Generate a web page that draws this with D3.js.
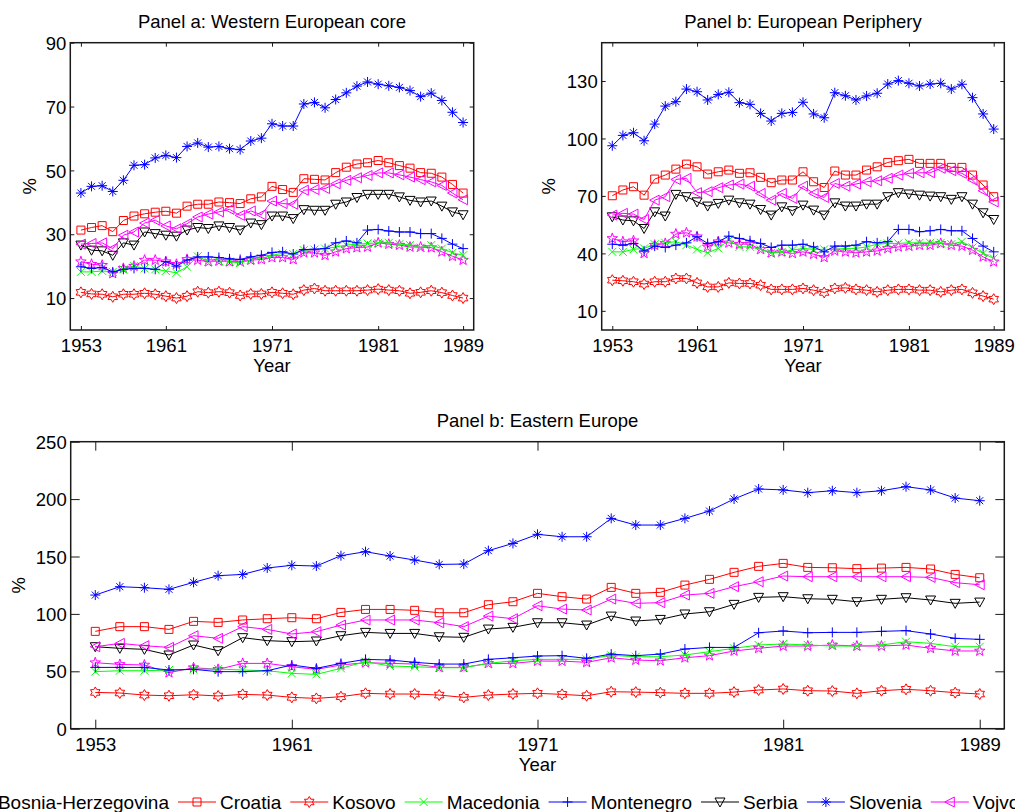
<!DOCTYPE html>
<html>
<head>
<meta charset="utf-8">
<script src="https://cdn.jsdelivr.net/npm/d3@7"></script>
<style>
  body { margin: 0; background: #fff; }
  svg { display: block; font-family: "Liberation Sans", Arial, sans-serif; }
</style>
</head>
<body>
<svg width="1015" height="812"></svg>
<script>
// years on the x axis
const years = [1953, 1954, 1955, 1956, 1957, 1958, 1959, 1960, 1961, 1962, 1963, 1964, 1965,
  1966, 1967, 1968, 1969, 1970, 1971, 1972, 1973, 1974, 1975, 1976, 1977, 1978, 1979,
  1980, 1981, 1982, 1983, 1984, 1985, 1986, 1987, 1988, 1989];
const xTicks = [1953, 1961, 1971, 1981, 1989];

const countries = ["Bosnia-Herzegovina", "Croatia", "Kosovo", "Macedonia",
  "Montenegro", "Serbia", "Slovenia", "Vojvodina"];

// Panel a: Western European core
const coreBosnia = [21.4, 20.6, 20.3, 17.7, 19.3, 20.0, 21.9, 21.9, 21.4, 20.6, 22.1, 21.9, 21.4, 21.6, 21.4, 21.4, 21.9, 22.1, 22.7, 22.7, 22.1, 24.2, 24.2, 23.4, 24.5, 25.5, 25.8, 26.0, 27.3, 26.9, 26.6, 26.0, 26.0, 25.8, 24.5, 23.1, 21.9];
const coreCroatia = [31.3, 32.1, 32.7, 30.8, 34.3, 35.7, 36.4, 36.9, 37.2, 36.6, 38.8, 39.4, 39.4, 40.1, 39.9, 39.6, 41.1, 41.7, 45.0, 44.0, 43.1, 47.4, 47.2, 47.0, 49.3, 51.0, 52.0, 52.4, 53.1, 52.4, 51.5, 50.7, 49.3, 49.1, 47.9, 45.6, 42.9];
const coreKosovo = [11.8, 11.3, 11.2, 10.4, 11.2, 11.2, 11.5, 11.2, 10.6, 10.0, 10.6, 12.0, 11.7, 12.0, 11.7, 10.8, 11.3, 11.3, 11.8, 11.5, 11.2, 12.5, 13.0, 12.3, 12.3, 12.3, 12.3, 12.5, 12.8, 12.5, 12.3, 11.5, 11.8, 12.3, 11.7, 10.8, 10.0];
const coreMacedonia = [18.2, 18.2, 18.5, 18.2, 19.0, 20.0, 19.3, 19.0, 18.5, 17.9, 19.8, 23.1, 21.4, 21.6, 21.4, 21.0, 21.9, 22.4, 23.4, 24.0, 23.8, 25.0, 25.2, 25.5, 26.0, 26.6, 26.9, 27.1, 27.3, 27.3, 26.9, 26.6, 25.8, 26.6, 25.5, 24.2, 23.4];
const coreMontenegro = [19.8, 19.3, 19.6, 18.2, 19.0, 19.3, 19.3, 19.0, 21.4, 20.0, 21.9, 22.9, 22.9, 22.7, 22.3, 22.1, 22.9, 23.4, 24.3, 24.5, 23.8, 25.2, 25.3, 25.5, 27.3, 27.9, 27.3, 31.3, 31.5, 31.0, 30.7, 30.7, 30.2, 30.2, 28.7, 26.9, 25.5];
const coreSerbia = [26.6, 25.0, 24.8, 23.4, 27.3, 26.6, 30.7, 30.2, 29.7, 29.4, 31.3, 32.1, 31.8, 32.6, 32.1, 31.3, 33.5, 33.0, 35.7, 35.7, 34.9, 37.7, 37.5, 37.5, 39.4, 40.1, 41.5, 42.5, 42.5, 42.5, 41.7, 40.6, 40.1, 40.4, 38.8, 37.0, 36.1];
const coreSlovenia = [42.9, 45.0, 45.2, 43.4, 46.9, 51.6, 51.8, 53.9, 54.7, 54.0, 57.5, 58.6, 57.3, 57.5, 56.8, 56.5, 59.2, 60.1, 64.6, 63.9, 63.9, 70.8, 71.3, 69.6, 72.2, 74.3, 76.4, 77.7, 77.0, 76.5, 76.0, 75.0, 73.1, 74.2, 71.9, 68.2, 65.0];
const coreVojvodina = [26.9, 27.1, 27.3, 25.5, 29.7, 30.7, 33.5, 34.4, 32.6, 31.7, 33.3, 35.4, 36.3, 37.0, 37.8, 35.9, 37.3, 36.1, 40.4, 39.6, 39.4, 43.8, 44.0, 44.3, 45.8, 46.9, 47.7, 48.4, 49.2, 49.2, 48.6, 47.9, 47.1, 46.4, 45.3, 42.9, 40.8];

// Panel b: European Periphery
const periBosnia = [47.8, 46.1, 46.6, 40.0, 44.3, 45.2, 50.1, 50.8, 48.7, 43.4, 46.1, 45.5, 44.8, 44.8, 42.1, 40.3, 40.8, 40.0, 40.8, 39.6, 37.9, 41.3, 40.8, 40.3, 40.8, 41.3, 42.6, 43.4, 43.8, 44.3, 44.3, 45.2, 44.3, 43.8, 41.7, 38.2, 35.6];
const periCroatia = [70.1, 73.1, 74.8, 70.4, 78.8, 80.9, 84.0, 86.6, 85.2, 81.4, 82.6, 83.5, 81.8, 82.1, 79.7, 76.9, 78.3, 78.3, 82.6, 77.4, 74.4, 83.0, 80.9, 80.9, 83.5, 85.2, 87.5, 88.4, 89.1, 87.0, 87.0, 87.0, 84.9, 84.9, 80.9, 75.7, 69.6];
const periKosovo = [26.0, 25.7, 25.2, 24.0, 25.2, 25.2, 26.9, 26.9, 24.6, 22.5, 22.5, 24.6, 24.3, 24.3, 23.4, 21.2, 21.2, 21.2, 21.7, 20.8, 19.6, 21.7, 22.0, 21.2, 20.8, 19.9, 20.8, 21.2, 21.2, 20.8, 20.8, 19.9, 20.8, 21.2, 19.4, 17.7, 16.1];
const periMacedonia = [40.8, 40.8, 42.1, 42.6, 44.8, 45.5, 46.1, 44.3, 42.1, 40.3, 42.6, 46.9, 43.4, 43.4, 42.1, 40.3, 40.8, 41.7, 42.6, 42.1, 42.1, 42.1, 42.6, 42.6, 43.4, 44.8, 45.2, 45.2, 45.5, 45.5, 45.5, 45.5, 44.8, 46.1, 43.1, 40.0, 37.4];
const periMontenegro = [44.8, 44.3, 45.2, 41.3, 43.8, 43.1, 44.3, 45.5, 48.7, 45.2, 46.1, 49.0, 47.8, 46.6, 45.2, 43.1, 44.3, 44.3, 44.8, 43.4, 40.8, 43.8, 43.8, 44.3, 46.1, 45.5, 46.1, 52.5, 52.5, 51.3, 51.8, 52.5, 51.8, 51.8, 47.8, 43.8, 40.8];
const periSerbia = [59.1, 57.4, 57.0, 53.0, 61.7, 59.5, 70.8, 69.6, 66.9, 64.7, 66.1, 67.8, 66.4, 65.7, 62.9, 60.0, 64.3, 62.3, 65.2, 62.6, 60.0, 66.4, 64.7, 64.7, 65.7, 65.7, 69.6, 71.7, 71.0, 70.4, 69.9, 69.6, 68.2, 69.6, 65.7, 61.2, 57.7];
const periSlovenia = [96.2, 101.6, 103.0, 98.8, 107.5, 116.9, 119.2, 125.8, 124.4, 120.1, 123.0, 124.1, 118.7, 117.8, 113.1, 109.1, 113.1, 113.6, 118.9, 112.8, 110.8, 123.9, 122.3, 120.1, 122.2, 123.6, 128.4, 130.2, 128.8, 127.4, 128.4, 128.8, 125.8, 128.3, 121.3, 112.8, 104.9];
const periVojvodina = [60.0, 60.9, 60.5, 57.7, 67.8, 69.6, 78.6, 79.2, 71.7, 72.2, 74.3, 75.7, 76.2, 75.1, 71.3, 67.8, 71.3, 68.7, 75.1, 71.3, 69.2, 76.5, 75.1, 76.2, 77.4, 77.9, 79.2, 80.9, 81.8, 82.1, 82.1, 84.4, 83.2, 81.8, 78.3, 72.7, 66.9];

// Panel b (bottom): Eastern Europe
const eastBosnia = [57.5, 56.0, 55.5, 48.8, 53.1, 51.7, 56.9, 56.9, 54.0, 51.7, 55.5, 57.5, 56.9, 56.3, 53.4, 53.4, 56.9, 56.9, 58.9, 58.9, 57.8, 61.8, 59.8, 59.2, 61.8, 63.6, 67.7, 70.0, 72.0, 72.0, 72.9, 72.0, 72.0, 72.9, 70.0, 67.7, 67.7];
const eastCroatia = [84.8, 88.9, 88.9, 86.5, 93.5, 92.6, 94.7, 95.8, 96.7, 95.8, 101.3, 103.9, 103.9, 103.1, 101.0, 101.0, 108.0, 110.6, 117.9, 115.0, 112.9, 123.1, 117.9, 118.8, 125.1, 130.1, 136.2, 141.4, 144.0, 140.5, 140.2, 139.4, 139.9, 140.5, 139.1, 134.4, 131.5];
const eastKosovo = [31.6, 31.1, 29.3, 28.7, 29.6, 28.5, 29.9, 29.3, 27.3, 26.4, 27.9, 30.8, 30.2, 30.2, 29.3, 27.3, 29.3, 30.2, 30.8, 29.9, 28.7, 32.2, 31.9, 31.4, 30.8, 30.8, 31.9, 33.7, 34.6, 33.1, 32.8, 30.8, 33.1, 34.3, 33.1, 31.4, 30.2];
const eastMacedonia = [49.7, 50.5, 50.5, 51.1, 51.7, 52.0, 51.1, 50.5, 48.2, 47.3, 52.6, 58.4, 54.6, 54.0, 53.1, 53.1, 56.9, 59.2, 60.4, 60.4, 60.4, 63.9, 62.7, 62.7, 64.2, 67.1, 70.0, 72.9, 73.8, 72.9, 72.0, 72.0, 72.9, 75.8, 74.3, 71.4, 71.4];
const eastMontenegro = [53.4, 53.4, 53.4, 51.1, 51.7, 49.7, 49.7, 50.5, 55.5, 52.6, 56.9, 60.4, 59.8, 57.8, 56.3, 56.3, 60.4, 61.8, 63.3, 63.6, 61.3, 65.0, 63.6, 65.0, 69.4, 70.8, 70.8, 83.6, 85.1, 83.6, 83.9, 83.9, 84.8, 85.4, 82.5, 78.7, 77.8];
const eastSerbia = [71.4, 70.0, 69.1, 64.2, 72.9, 67.9, 79.3, 76.7, 75.8, 76.4, 81.0, 83.9, 83.0, 83.0, 80.1, 79.6, 86.8, 88.3, 92.3, 92.3, 90.3, 98.1, 93.8, 95.2, 99.9, 101.9, 108.3, 114.4, 115.0, 113.2, 112.7, 110.6, 112.7, 114.1, 112.1, 109.2, 110.3];
const eastSlovenia = [116.4, 123.7, 122.8, 121.4, 127.5, 133.3, 134.4, 140.0, 142.3, 141.7, 150.7, 154.2, 150.4, 146.9, 143.1, 143.4, 155.1, 161.4, 169.3, 167.2, 167.2, 183.2, 177.4, 177.4, 183.2, 189.6, 200.1, 208.8, 208.0, 205.6, 207.3, 205.6, 207.3, 210.8, 208.0, 200.9, 198.6];
const eastVojvodina = [71.4, 74.3, 72.3, 70.8, 81.0, 78.7, 88.9, 86.5, 82.5, 84.5, 90.3, 94.7, 94.7, 94.7, 92.3, 88.9, 98.1, 95.8, 107.1, 104.2, 103.4, 112.9, 109.2, 109.8, 116.4, 117.9, 123.7, 128.0, 133.0, 132.4, 132.4, 132.4, 132.4, 132.4, 131.8, 127.2, 125.4];

const coreTicks = [10, 30, 50, 70, 90];
const periTicks = [10, 40, 70, 100, 130];
const eastTicks = [0, 50, 100, 150, 200, 250];

// line colour and marker per country (matlab style)
const colors = {
  "Bosnia-Herzegovina": "#ff00ff", "Croatia": "#ff0000", "Kosovo": "#ff0000",
  "Macedonia": "#00ff00", "Montenegro": "#0000ff", "Serbia": "#000000",
  "Slovenia": "#0000ff", "Vojvodina": "#ff00ff"
};

function starPath(n, R, r) {
  const pts = [];
  for (let k = 0; k < 2 * n; k++) {
    const a = -Math.PI / 2 + k * Math.PI / n;
    const rad = k % 2 ? r : R;
    pts.push((rad * Math.cos(a)).toFixed(2) + "," + (rad * Math.sin(a)).toFixed(2));
  }
  return "M" + pts.join("L") + "Z";
}

const markers = {
  "Bosnia-Herzegovina": starPath(5, 5.5, 2.2),
  "Croatia": "M-4,-4H4V4H-4Z",
  "Kosovo": starPath(6, 5.5, 3.2),
  "Macedonia": "M-4,-4L4,4M-4,4L4,-4",
  "Montenegro": "M-5,0H5M0,-5V5",
  "Serbia": "M-5,-4H5L0,5Z",
  "Slovenia": "M-5,0H5M0,-5V5M-3.5,-3.5L3.5,3.5M-3.5,3.5L3.5,-3.5",
  "Vojvodina": "M-5,0L4.5,-5V5Z"
};

const panels = [
  { title: "Panel a: Western European core", left: 70.3, right: 473.7, top: 42.7, bottom: 330,
    yMax: 90, yTicks: coreTicks, tick: 4, titleY: 28, pctX: 30,
    series: [coreBosnia, coreCroatia, coreKosovo, coreMacedonia, coreMontenegro, coreSerbia, coreSlovenia, coreVojvodina] },
  { title: "Panel b: European Periphery", left: 601.7, right: 1004.3, top: 42.7, bottom: 330,
    yMax: 150, yTicks: periTicks, tick: 4, titleY: 28, pctX: 549,
    series: [periBosnia, periCroatia, periKosovo, periMacedonia, periMontenegro, periSerbia, periSlovenia, periVojvodina] },
  { title: "Panel b: Eastern Europe", left: 70.7, right: 1004.3, top: 441.7, bottom: 728.7,
    yMax: 250, yTicks: eastTicks, tick: 9, titleY: 427, pctX: 19,
    series: [eastBosnia, eastCroatia, eastKosovo, eastMacedonia, eastMontenegro, eastSerbia, eastSlovenia, eastVojvodina] }
];

const svg = d3.select("svg");
const axisColor = "#1a1a1a";

panels.forEach(function(p) {
  const x = d3.scaleLinear().domain([1952, 1990]).range([p.left, p.right]);
  const y = d3.scaleLinear().domain([0, p.yMax]).range([p.bottom, p.top]);
  const g = svg.append("g");

  // axes, ticks point inwards like matlab
  const bottomAxis = g.append("g")
      .attr("transform", `translate(0,${p.bottom})`)
      .call(d3.axisBottom(x).tickValues(xTicks).tickFormat(d3.format("d"))
        .tickSizeInner(-p.tick).tickSizeOuter(0).tickPadding(9));
  g.append("g")
      .attr("transform", `translate(0,${p.top})`)
      .call(d3.axisTop(x).tickValues(xTicks).tickFormat("")
        .tickSizeInner(-p.tick).tickSizeOuter(0));
  const leftAxis = g.append("g")
      .attr("transform", `translate(${p.left},0)`)
      .call(d3.axisLeft(y).tickValues(p.yTicks)
        .tickSizeInner(-p.tick).tickSizeOuter(0).tickPadding(4));
  g.append("g")
      .attr("transform", `translate(${p.right},0)`)
      .call(d3.axisRight(y).tickValues(p.yTicks).tickFormat("")
        .tickSizeInner(-p.tick).tickSizeOuter(0));

  g.selectAll(".domain").remove();
  g.selectAll(".tick line").attr("stroke", axisColor).attr("stroke-width", 1);
  g.selectAll(".tick text").attr("fill", "#000").style("font-size", "18.5px")
      .style("font-family", "'Liberation Sans', Arial, sans-serif");
  leftAxis.selectAll(".tick text").attr("dy", "0.36em");

  g.append("rect")
      .attr("x", p.left).attr("y", p.top)
      .attr("width", p.right - p.left).attr("height", p.bottom - p.top)
      .attr("fill", "none").attr("stroke", axisColor).attr("stroke-width", 1.5);

  // series
  const line = d3.line()
      .x(function(d, i) { return x(years[i]); })
      .y(function(d) { return y(d); });

  p.series.forEach(function(values, k) {
    const name = countries[k];
    g.append("path")
        .attr("d", line(values))
        .attr("fill", "none")
        .attr("stroke", colors[name])
        .attr("stroke-width", 1);
    g.selectAll(null)
      .data(values)
      .enter().append("path")
        .attr("d", markers[name])
        .attr("transform", function(d, i) { return `translate(${x(years[i])},${y(d)})`; })
        .attr("fill", "none")
        .attr("stroke", colors[name])
        .attr("stroke-width", 1);
  });

  // title and axis labels
  const mid = (p.left + p.right) / 2;
  svg.append("text")
      .attr("x", mid).attr("y", p.titleY)
      .attr("text-anchor", "middle")
      .style("font-size", "18.5px")
      .text(p.title);
  svg.append("text")
      .attr("x", mid).attr("y", p.bottom + 42)
      .attr("text-anchor", "middle")
      .style("font-size", "18.5px")
      .text("Year");
  svg.append("text")
      .attr("transform", `translate(${p.pctX},${(p.top + p.bottom) / 2}) rotate(-90)`)
      .attr("text-anchor", "middle")
      .attr("dy", "0.35em")
      .style("font-size", "18.5px")
      .text("%");
});

// legend along the bottom, runs off both edges like the original
const legend = svg.append("g");
const legendY = 802;
let cursor = 169;
countries.forEach(function(name, k) {
  const item = legend.append("g");
  const label = item.append("text")
      .attr("y", legendY + 6.5)
      .style("font-size", "19px")
      .text(name);
  const w = label.node().getComputedTextLength();
  let lineStart;
  if (k === 0) {
    label.attr("x", cursor - w);
    lineStart = cursor - w - 4 - 38;
    cursor += 9;
  } else {
    lineStart = cursor;
    label.attr("x", cursor + 42);
    cursor += 42 + w + 9;
  }
  item.append("line")
      .attr("x1", lineStart).attr("x2", lineStart + 38)
      .attr("y1", legendY).attr("y2", legendY)
      .attr("stroke", colors[name]).attr("stroke-width", 1);
  item.append("path")
      .attr("d", markers[name])
      .attr("transform", `translate(${lineStart + 19},${legendY})`)
      .attr("fill", "none")
      .attr("stroke", colors[name]).attr("stroke-width", 1);
});
</script>
</body>
</html>
